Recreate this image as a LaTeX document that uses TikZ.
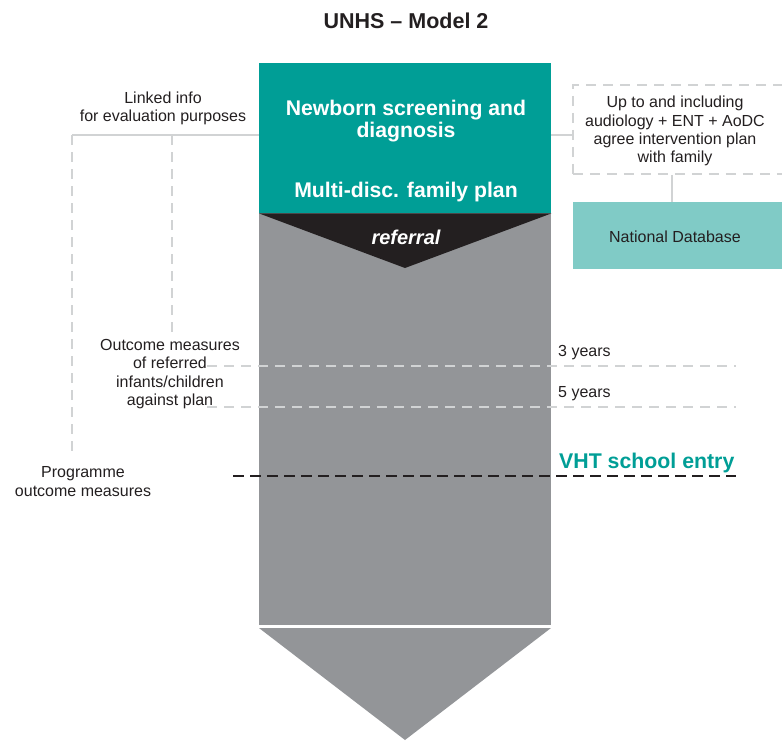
\documentclass[tikz,border=0pt]{standalone}
\usepackage{fontspec}
\setmainfont{Liberation Sans}
\definecolor{tealA}{HTML}{009E96}
\definecolor{tealB}{HTML}{80CBC6}
\definecolor{colgray}{HTML}{939598}
\definecolor{darktri}{HTML}{231F20}
\definecolor{linegray}{HTML}{D1D3D4}
\definecolor{txtdark}{HTML}{231F20}
\tikzset{
  smalltxt/.style={text=txtdark, align=center, inner sep=0pt, font=\fontsize{16}{18.2}\selectfont},
  bigwhite/.style={text=white, align=center, inner sep=0pt, font=\bfseries\fontsize{21.2}{22}\selectfont},
  lgline/.style={draw=linegray, line width=1.8pt},
  lgdash/.style={draw=linegray, line width=1.8pt, dash pattern=on 10pt off 7pt},
  bkdash/.style={draw=txtdark, line width=1.6pt, dash pattern=on 11pt off 6pt},
}
\begin{document}
\begin{tikzpicture}[x=1pt,y=-1pt]
\useasboundingbox (0,0) rectangle (782,740);
% title
\node[text=txtdark, inner sep=0pt, font=\bfseries\fontsize{21.5}{22}\selectfont] (title) at (406,21) {UNHS – Model 2};
% gray column
\node[fill=colgray, inner sep=0pt, minimum width=292pt, minimum height=412pt, anchor=north west] (column) at (259,213) {};
% teal box
\node[fill=tealA, inner sep=0pt, minimum width=292pt, minimum height=150pt, anchor=north west] (screen) at (259,63) {};
\node[bigwhite] (nbtxt) at (406,121) {Newborn screening and\\diagnosis};
\node[bigwhite] (mdtxt) at (406,192) {Multi-disc. family plan};
% referral triangle
\fill[darktri] (screen.south west) -- (screen.south east) -- (405,268) -- cycle;
\node[text=white, inner sep=0pt, font=\bfseries\itshape\fontsize{20}{22}\selectfont] (referral) at (406,237) {referral};
% bottom arrow
\coordinate (tipL) at (259,628);
\coordinate (tipR) at (551,628);
\coordinate (tipB) at (405,740);
\fill[colgray] (tipL) -- (tipR) -- (tipB) -- cycle;
% right dashed box
\node[lgdash, inner sep=0pt, minimum width=222pt, minimum height=89pt, anchor=north west] (upto) at (572,84) {};
\node[smalltxt] (uptotxt) at (675,131) {Up to and including\\audiology + ENT + AoDC\\agree intervention plan\\with family};
% national database
\node[fill=tealB, inner sep=0pt, minimum width=215pt, minimum height=67pt, anchor=north west] (natdb) at (573,202) {};
\node[smalltxt] (natdbtxt) at (675,237) {National Database};
% connectors
\coordinate (hl) at (72,135);
\coordinate (hm) at (172,135);
\coordinate (vx) at (672,0);
\draw[lgline] (hl) -- (hl -| screen.west);
\draw[lgline] (screen.east |- hl) -- (upto.west |- hl);
\draw[lgline] (vx |- upto.south) -- (vx |- natdb.north);
% left labels
\node[smalltxt] (linked) at (163,108.5) {Linked info\\for evaluation purposes};
\node[smalltxt] (outcome) at (170,374) {Outcome measures\\of referred\\infants/children\\against plan};
\node[smalltxt] (programme) at (83,481.5) {Programme\\outcome measures};
\coordinate (hlend) at (72,456);
\coordinate (hmend) at (172,336);
\draw[lgdash] (hl) -- (hlend);
\draw[lgdash] (hm) -- (hmend);
% time lines
\coordinate (y3a) at (207,366);
\coordinate (y3b) at (736,366);
\coordinate (y5a) at (207,407);
\coordinate (y5b) at (736,407);
\coordinate (vha) at (233,476);
\coordinate (vhb) at (736,476);
\draw[lgdash] (y3a) -- (y3b);
\draw[lgdash] (y5a) -- (y5b);
\draw[bkdash] (vha) -- (vhb);
\node[smalltxt, anchor=west] (y3) at (558,353) {3 years};
\node[smalltxt, anchor=west] (y5) at (558,394) {5 years};
\node[text=tealA, inner sep=0pt, anchor=west, font=\bfseries\fontsize{21.3}{22}\selectfont] (vht) at (559,463) {VHT school entry};
\end{tikzpicture}
\end{document}
